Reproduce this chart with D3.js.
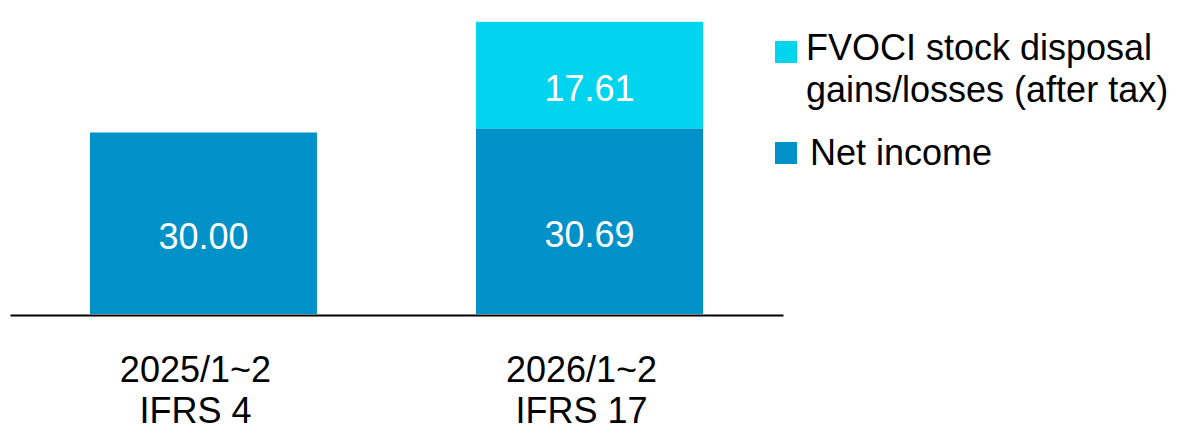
<!DOCTYPE html>
<html>
<head>
<meta charset="utf-8">
<script src="https://cdn.jsdelivr.net/npm/d3@7"></script>
<style>
  html, body { margin: 0; padding: 0; background: #fff; }
  svg { display: block; font-family: "Liberation Sans", Arial, sans-serif; }
</style>
</head>
<body>
<svg id="chart" width="1181" height="432"></svg>
<script>
// Data
const categories = ['2025/1~2|IFRS 4', '2026/1~2|IFRS 17']
const netIncome = [30.00, 30.69]
const fvociGains = [null, 17.61]
const seriesNames = ['FVOCI stock disposal|gains/losses (after tax)', 'Net income']

// Presentation
const colors = { net: '#0091c8', fvoci: '#00d4ef' }
const fontSize = 36
const baseline = 314

const svg = d3.select('#chart')

// Scales
const x = d3.scaleBand()
    .domain(categories)
    .range([10, 783])
    .paddingInner(0.412)
    .paddingOuter(0.207)
const y = d3.scaleLinear()
    .domain([0, 50])
    .range([baseline, 11.5])

// Stacked segments
const segments = categories.flatMap((c, i) => {
    const out = [{ cat: c, y0: 0, y1: netIncome[i], value: netIncome[i], color: colors.net }]
    if (fvociGains[i] != null) {
        out.push({ cat: c, y0: netIncome[i], y1: netIncome[i] + fvociGains[i], value: fvociGains[i], color: colors.fvoci })
    }
    return out
})

const bars = svg.append('g').attr('class', 'bars')
bars.selectAll('rect')
    .data(segments)
    .enter()
    .append('rect')
    .attr('x', d => x(d.cat))
    .attr('width', x.bandwidth())
    .attr('y', d => y(d.y1))
    .attr('height', d => y(d.y0) - y(d.y1))
    .attr('fill', d => d.color)

bars.selectAll('text')
    .data(segments)
    .enter()
    .append('text')
    .attr('x', d => x(d.cat) + x.bandwidth() / 2)
    .attr('y', d => (y(d.y0) + y(d.y1)) / 2 + 26)
    .attr('text-anchor', 'middle')
    .attr('font-size', fontSize)
    .attr('fill', '#fff')
    .text(d => d.value.toFixed(2))

// Axis
const xAxis = d3.axisBottom(x).tickSize(0).tickSizeOuter(0).tickFormat('')
const axisG = svg.append('g')
    .attr('transform', `translate(0, ${baseline + 1})`)
    .call(xAxis)
axisG.select('.domain').attr('stroke', '#000').attr('stroke-width', 2)
axisG.selectAll('.tick text').remove()
axisG.selectAll('.tick')
    .append('text')
    .attr('text-anchor', 'middle')
    .attr('font-size', fontSize)
    .attr('fill', '#000')
    .selectAll('tspan')
    .data(d => d.split('|'))
    .enter()
    .append('tspan')
    .attr('x', -8)
    .attr('y', (_, i) => 67 + i * 41)
    .text(d => d)

// Legend
const legend = svg.append('g').attr('transform', 'translate(775, 0)')
const legendItems = [
    { name: seriesNames[0], color: colors.fvoci, top: 41, dx: 31, dy: 19 },
    { name: seriesNames[1], color: colors.net, top: 142, dx: 35, dy: 23 }
]
const item = legend.selectAll('g')
    .data(legendItems)
    .enter()
    .append('g')
    .attr('transform', d => `translate(0, ${d.top})`)
item.append('rect')
    .attr('width', 22)
    .attr('height', 22)
    .attr('fill', d => d.color)
item.append('text')
    .attr('font-size', fontSize)
    .attr('fill', '#000')
    .selectAll('tspan')
    .data(d => d.name.split('|').map(line => ({ line, dx: d.dx, dy: d.dy })))
    .enter()
    .append('tspan')
    .attr('x', d => d.dx)
    .attr('y', (d, i) => d.dy + i * 42)
    .text(d => d.line)
</script>
</body>
</html>
